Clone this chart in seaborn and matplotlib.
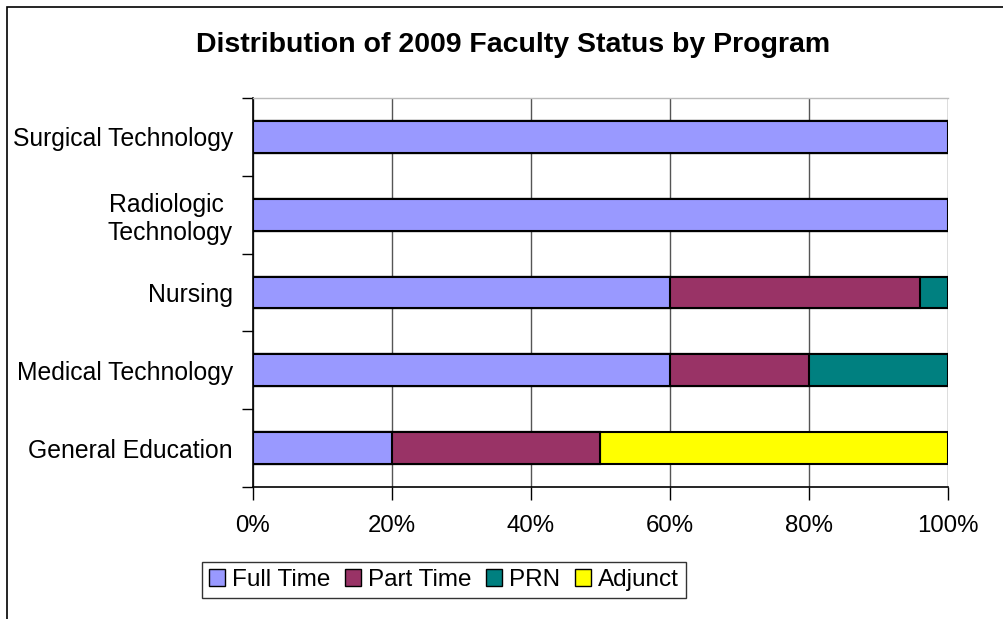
import matplotlib
matplotlib.use("Agg")
import matplotlib.pyplot as plt
import seaborn as sns
import pandas as pd
import numpy as np
from matplotlib.patches import Rectangle, Patch
from matplotlib.ticker import FuncFormatter, FixedLocator

programs = ["Surgical Technology", "Radiologic \nTechnology", "Nursing",
            "Medical Technology", "General Education"]
full_time = [100, 100, 60, 60, 20]
part_time = [0, 0, 36, 20, 30]
prn = [0, 0, 4, 20, 0]
adjunct = [0, 0, 0, 0, 50]
series_names = ["Full Time", "Part Time", "PRN", "Adjunct"]
series_colors = ["#9999FF", "#993366", "#008080", "#FFFF00"]
x_ticks = [0, 20, 40, 60, 80, 100]

sns.set_theme(style="white")
plt.rcParams["font.family"] = ["Liberation Sans", "DejaVu Sans"]
plt.rcParams["text.color"] = "black"
plt.rcParams["xtick.color"] = "black"
plt.rcParams["ytick.color"] = "black"
plt.rcParams["xtick.labelcolor"] = "black"
plt.rcParams["ytick.labelcolor"] = "black"

fig = plt.figure(figsize=(10.04, 6.19), dpi=100)
ax = fig.add_axes([253/1004, 1-487/619, (948-253)/1004, (487-98)/619])

series = [full_time, part_time, prn, adjunct]
cum = np.cumsum(np.array(series, dtype=float), axis=0)
# draw cumulative totals from the largest down, so segments stack
for i in range(len(series) - 1, -1, -1):
    df = pd.DataFrame({"program": programs, "value": cum[i]})
    sns.barplot(data=df, y="program", x="value", orient="h", ax=ax,
                color=series_colors[i], saturation=1, width=0.41,
                edgecolor="black", linewidth=1.5, errorbar=None)

ax.set_xlim(0, 100)
ax.set_ylim(4.5, -0.5)
ax.set_xlabel("")
ax.set_ylabel("")
ax.xaxis.set_major_locator(FixedLocator(x_ticks))
ax.xaxis.set_major_formatter(FuncFormatter(lambda v, p: f"{int(v)}%"))
ax.grid(axis="x", color="#555555", linewidth=1)
ax.set_axisbelow(True)
ax.tick_params(axis="x", which="major", length=9, width=1, color="black",
               direction="out", bottom=True, labelsize=17.3, pad=11.5,
               labelcolor="black")
ax.tick_params(axis="y", which="major", length=0, labelsize=17.8, pad=14.5,
               labelcolor="black")
ax.yaxis.set_minor_locator(FixedLocator(np.arange(-0.5, 5.0, 1.0)))
ax.tick_params(axis="y", which="minor", length=8, width=1, color="black",
               direction="out", left=True)
for lab in ax.get_yticklabels():
    lab.set_multialignment("center")

for s in ["left", "bottom"]:
    ax.spines[s].set_color("black")
    ax.spines[s].set_linewidth(1.2)
ax.spines["right"].set_visible(False)
ax.spines["top"].set_color("#bbbbbb")
ax.spines["top"].set_linewidth(1)

fig.text(513/1004, 1-45/619, "Distribution of 2009 Faculty Status by Program",
         ha="center", va="center", fontsize=20.5, fontweight="bold", color="black")

handles = [Patch(facecolor=c, edgecolor="black", linewidth=1) for c in series_colors]
leg = fig.legend(handles, series_names, loc="center",
                 bbox_to_anchor=(444/1004, 1-580/619), ncol=4, frameon=True,
                 fontsize=17.5, handlelength=0.65, handleheight=0.65,
                 handletextpad=0.3, columnspacing=0.6, borderpad=0.3,
                 fancybox=False, edgecolor="black", labelcolor="black")
leg.get_frame().set_linewidth(1)

fig.add_artist(Rectangle((7/1004, -0.2), 1.5, 1.2 - 6.5/619, transform=fig.transFigure,
                         fill=False, edgecolor="black", linewidth=1.2))

fig.savefig("out.png", dpi=100)
